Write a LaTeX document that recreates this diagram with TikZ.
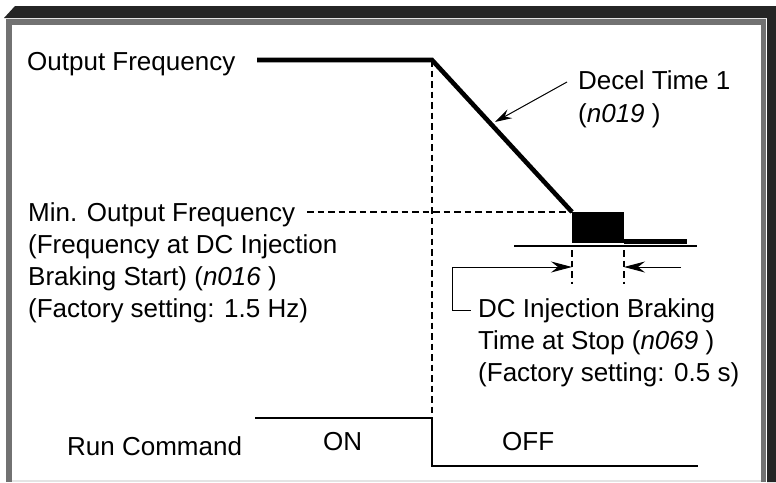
\documentclass[tikz,border=0pt]{standalone}
\usepackage{fontspec}
\setmainfont{Liberation Sans}
\usetikzlibrary{arrows.meta}
\definecolor{framedark}{HTML}{252525}
\definecolor{framegrey}{HTML}{727272}
\definecolor{framelight}{HTML}{E4E4E4}
\begin{document}
\begin{tikzpicture}[x=1pt,y=-1pt,
  lbl/.style={font=\fontsize{26}{30}\selectfont, inner sep=0pt, anchor=base west},
  freq/.style={line width=4.6pt, line join=miter},
  dashline/.style={line width=1.7pt, dash pattern=on 6.5pt off 4pt},
  thinline/.style={line width=1pt},
  runline/.style={line width=2.6pt},
  tip/.style={-{Stealth[length=21pt,width=11pt,inset=7pt]}},
  smalltip/.style={-{Stealth[length=17pt,width=10pt,inset=6pt]}}]
% background and frame
\fill[white] (0,0) rectangle (776,482);
\useasboundingbox (0,0) rectangle (776,482);
\fill[framedark] (4,18) -- (15,6) -- (776,6) -- (776,482) -- (767,482) -- (767,18) -- cycle;
\fill[framegrey] (6,19) rectangle (766,482);
\fill[white] (12,25) rectangle (761,480);
\fill[framelight] (12,480) rectangle (761,482);

% coordinates
\coordinate (f0) at (257,60);
\coordinate (f1) at (432,60);
\coordinate (f2) at (572,212);
\coordinate (r2) at (624,243);
\coordinate (b1) at (624,239);
\coordinate (b2) at (687,244);
\coordinate (base0) at (514,245.5);
\coordinate (base1) at (697,245.5);
\coordinate (v0) at (432,418);
\coordinate (m0) at (307,212);
\coordinate (d1a) at (572,250);
\coordinate (d1b) at (572,284);
\coordinate (d2a) at (624,250);
\coordinate (d2b) at (624,284);
\coordinate (a0) at (452,267);
\coordinate (a1) at (572,267);
\coordinate (a2) at (681,267);
\coordinate (a3) at (624,267);
\coordinate (l1) at (452,310);
\coordinate (l2) at (471,310);
\coordinate (dt0) at (567,82);
\coordinate (dt1) at (495,122);
\coordinate (r0) at (255,418);
\coordinate (r1) at (432,418);
\coordinate (r3) at (432,466);
\coordinate (r4) at (698,466);

% texts
\node[lbl] (of) at (27,70) {Output Frequency};
\node[lbl] (dec1) at (578,89) {Decel Time 1};
\node[lbl] (dec2) at (578,122) {(\textit{n019} )};
\node[lbl] (min1) at (28,221) {Min. Output Frequency};
\node[lbl] (min2) at (28,253) {(Frequency at DC Injection};
\node[lbl] (min3) at (28,285) {Braking Start) (\textit{n016} )};
\node[lbl] (min4) at (28,317) {(Factory setting: 1.5 Hz)};
\node[lbl] (dc1) at (478,317) {DC Injection Braking};
\node[lbl] (dc2) at (478,349) {Time at Stop (\textit{n069} )};
\node[lbl] (dc3) at (478,381) {(Factory setting: 0.5 s)};
\node[lbl] (run) at (67,455) {Run Command};
\node[lbl] (on) at (323,450) {ON};
\node[lbl] (off) at (502,450) {OFF};

% dashed guides
\draw[dashline] (f1) -- (v0);
\draw[dashline] (m0) -- (f2);
\draw[dashline] (d1a) -- (d1b);
\draw[dashline] (d2a) -- (d2b);

% frequency curve
\draw[freq] (f0) -- (f1) -- (f2);
\fill (f2) rectangle (r2);
\fill (b1) rectangle (b2);
\draw[line width=2pt] (base0) -- (base1);

% arrows
\draw[thinline, tip] (a0) -- (a1);
\draw[thinline, tip] (a2) -- (a3);
\draw[thinline] (a0) -- (l1) -- (l2);
\draw[thinline, smalltip] (dt0) -- (dt1);

% run command
\draw[runline] (r0) -- (r1) -- (r3) -- (r4);
\end{tikzpicture}
\end{document}
